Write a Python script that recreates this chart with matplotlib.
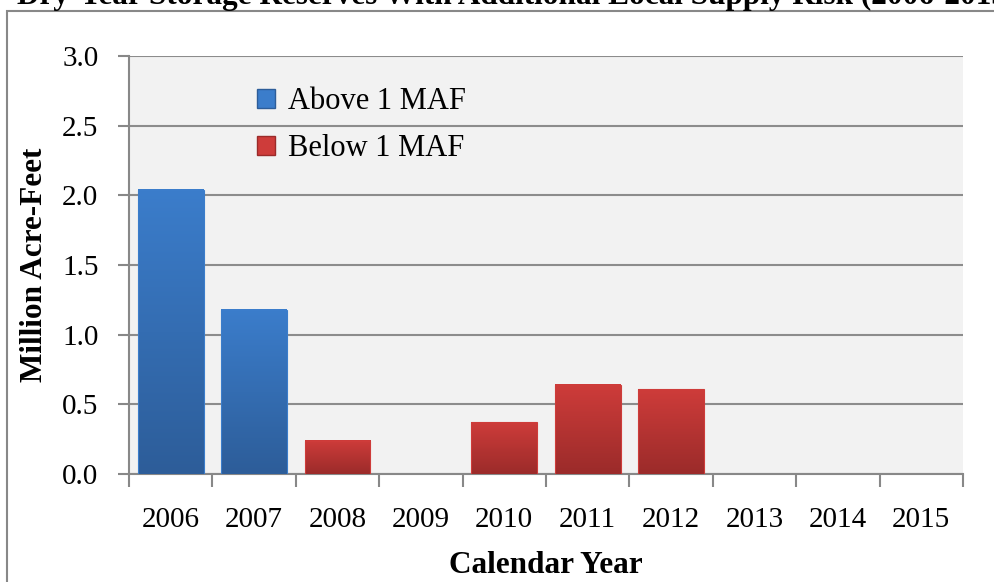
import matplotlib.pyplot as plt
import numpy as np
from matplotlib.colors import LinearSegmentedColormap
from matplotlib.patches import Patch, Rectangle

YEARS = ["2006", "2007", "2008", "2009", "2010", "2011", "2012", "2013", "2014", "2015"]
ABOVE_1_MAF = [2.04, 1.18, 0, 0, 0, 0, 0, 0, 0, 0]
BELOW_1_MAF = [0, 0, 0.24, 0, 0.37, 0.64, 0.61, 0, 0, 0]
Y_TICKS = [0.0, 0.5, 1.0, 1.5, 2.0, 2.5, 3.0]

TITLE = "Dry-Year Storage Reserves With Additional Local Supply Risk (2006-2015)"
FONT = "Liberation Serif"

BLUE_TOP, BLUE_BOTTOM = "#3B7DCB", "#2D5D99"
RED_TOP, RED_BOTTOM = "#CE3C3A", "#9B2B2A"


def gradient_fill(ax, bars, top, bottom):
    cmap = LinearSegmentedColormap.from_list("g", [bottom, top])
    grad = np.linspace(0, 1, 128).reshape(-1, 1)
    for bar in bars:
        h = bar.get_height()
        if h <= 0:
            continue
        x0 = bar.get_x()
        w = bar.get_width()
        ax.imshow(grad, cmap=cmap, aspect="auto", origin="lower",
                  extent=(x0, x0 + w, 0, h), zorder=3)
        bar.set_facecolor("none")
        bar.set_edgecolor(top)
        bar.set_linewidth(0.8)
        bar.set_zorder(4)


def main():
    plt.rcParams["font.family"] = [FONT, "DejaVu Serif"]
    fig = plt.figure(figsize=(9.95, 5.82), dpi=100)
    ax = fig.add_axes([129 / 995, 1 - 474 / 582, (963 - 129) / 995, (474 - 56) / 582])

    x = np.arange(len(YEARS))
    bars_a = ax.bar(x, ABOVE_1_MAF, width=0.79, color=BLUE_TOP, zorder=3)
    bars_b = ax.bar(x, BELOW_1_MAF, width=0.79, color=RED_TOP, zorder=3)
    gradient_fill(ax, bars_a, BLUE_TOP, BLUE_BOTTOM)
    gradient_fill(ax, bars_b, RED_TOP, RED_BOTTOM)

    ax.set_xlim(-0.5, len(YEARS) - 0.5)
    ax.set_ylim(0, 3.0)
    ax.set_facecolor("#F2F2F2")

    ax.set_yticks(Y_TICKS)
    ax.set_yticklabels([f"{v:.1f}" for v in Y_TICKS])
    ax.set_xticks(x)
    ax.set_xticklabels(YEARS)
    ax.set_xticks(np.arange(len(YEARS) + 1) - 0.5, minor=True)

    ax.tick_params(axis="x", which="major", length=0, pad=24, labelsize=21)
    ax.tick_params(axis="x", which="minor", length=9, width=1.5, color="#888888", direction="out")
    ax.tick_params(axis="y", length=8, width=1.5, color="#888888", pad=14, labelsize=21)

    ax.grid(True, axis="y", color="#8C8C8C", linewidth=1.5, zorder=1)
    ax.set_axisbelow(True)
    for side in ["top", "right"]:
        ax.spines[side].set_visible(False)
    for side in ["left", "bottom"]:
        ax.spines[side].set_color("#888888")
        ax.spines[side].set_linewidth(1.5)

    ax.set_xlabel("Calendar Year", fontsize=22.5, fontweight="bold", labelpad=13)
    ax.set_ylabel("Million Acre-Feet", fontsize=22.5, fontweight="bold", labelpad=9)

    handles = [Patch(facecolor=BLUE_TOP, edgecolor=BLUE_BOTTOM),
               Patch(facecolor=RED_TOP, edgecolor=RED_BOTTOM)]
    ax.legend(handles, ["Above 1 MAF", "Below 1 MAF"], loc="upper left",
              bbox_to_anchor=(0.139, 0.954), frameon=False, fontsize=22,
              handlelength=0.6, handleheight=0.6, handletextpad=0.4,
              labelspacing=0.58, borderaxespad=0)

    fig.text(17 / 995, 1 - 4 / 582, TITLE, fontsize=22.5, fontweight="bold",
             ha="left", va="baseline")

    fig.patches.append(Rectangle((7 / 995, -0.1), 1.1, 1.1 - 11 / 582,
                                 transform=fig.transFigure, fill=False,
                                 edgecolor="#888888", linewidth=1.5))

    fig.savefig("out.png", dpi=100)
    plt.close(fig)


if __name__ == "__main__":
    main()
